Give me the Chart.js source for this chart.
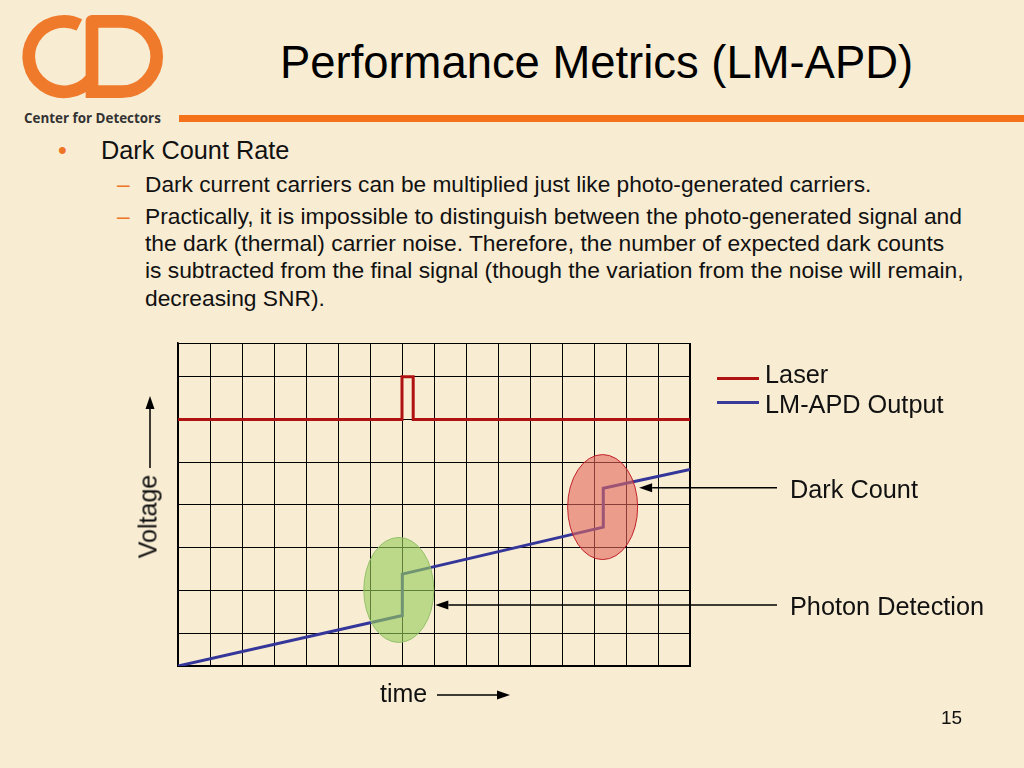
<!DOCTYPE html>
<html>
<head>
<meta charset="utf-8">
<script src="https://cdn.jsdelivr.net/npm/chart.js@4.4.1/dist/chart.umd.min.js"></script>
<style>
  html, body { margin:0; padding:0; }
  body { width:1024px; height:768px; overflow:hidden; position:relative;
         background:#f8ecd3; font-family:"Liberation Sans", Arial, sans-serif; color:#111; }
  .t { position:absolute; white-space:nowrap; line-height:1; }
  .or { color:#ee7526; }
</style>
</head>
<body>
<svg width="180" height="112" style="position:absolute;left:0;top:0" xmlns="http://www.w3.org/2000/svg">
  <g fill="none" stroke="#ef7a2b" stroke-width="12.7">
    <path d="M 79.4 24.9 A 35.2 35.2 0 1 0 91 79.1"/>
    <path d="M 92 98 L 92 21.3 L 121.5 21.3 A 35.2 35.2 0 0 1 121.5 91.7 L 92 91.7" stroke-linejoin="round"/>
  </g>
</svg>
<div class="t" style="left:24px;top:112px;font-family:'Open Sans',sans-serif;font-weight:700;font-size:13.4px;color:#333;">Center for Detectors</div>
<div style="position:absolute;left:179px;top:115px;width:845px;height:7px;background:#f4721a;"></div>

<div class="t" style="left:280px;top:39.6px;font-size:45.4px;color:#000;">Performance Metrics (LM-APD)</div>

<div class="t or" style="left:58px;top:137.8px;font-size:25px;">•</div>
<div class="t" style="left:101px;top:137.6px;font-size:25.3px;">Dark Count Rate</div>
<div class="t or" style="left:117px;top:172.8px;font-size:22.7px;">–</div>
<div class="t" style="left:145px;top:172.8px;font-size:22.7px;">Dark current carriers can be multiplied just like photo-generated carriers.</div>
<div class="t or" style="left:117px;top:204.8px;font-size:22.7px;">–</div>
<div class="t" style="left:145px;top:204.7px;font-size:22.8px;">Practically, it is impossible to distinguish between the photo-generated signal and</div>
<div class="t" style="left:145px;top:231.7px;font-size:22.8px;">the dark (thermal) carrier noise. Therefore, the number of expected dark counts</div>
<div class="t" style="left:145px;top:258.7px;font-size:22.8px;">is subtracted from the final signal (though the variation from the noise will remain,</div>
<div class="t" style="left:145px;top:286.7px;font-size:22.8px;">decreasing SNR).</div>

<canvas id="c" width="1024" height="768" style="position:absolute;left:0;top:0;"></canvas>

<div style="position:absolute;left:717px;top:377px;width:42px;height:3px;background:#b01212;"></div>
<div style="position:absolute;left:717px;top:400.5px;width:42px;height:3px;background:#3a3a98;"></div>
<div class="t" style="left:765px;top:361.6px;font-size:25.3px;">Laser</div>
<div class="t" style="left:765px;top:391.6px;font-size:25.3px;">LM-APD Output</div>
<div class="t" style="left:790px;top:476.6px;font-size:25.3px;">Dark Count</div>
<div class="t" style="left:790px;top:593.6px;font-size:25.3px;">Photon Detection</div>
<div class="t" style="left:380px;top:680.8px;font-size:25px;">time</div>
<div class="t" style="left:97.5px;top:504px;width:100px;height:25px;text-align:center;font-size:25px;transform:rotate(-90deg);transform-origin:50% 50%;">Voltage</div>
<div class="t" style="left:941px;top:707.9px;font-size:19px;">15</div>

<script>
// ---- data (time in grid divisions, voltage in arbitrary units) ----
const timeGrid = [0,1,2,3,4,5,6,7,8,9,10,11,12,13,14,15,16];
const voltageGrid = [0, 0.77, 1.77, 2.77, 3.77, 4.77, 5.77, 6.77, 7.56];
const laserT = [0, 7.0, 7.0, 7.35, 7.35, 16];
const laserV = [5.77, 5.77, 6.77, 6.77, 5.77, 5.77];
const apdT = [0, 7.01, 7.01, 13.29, 13.29, 16];
const apdV = [0, 1.18, 2.15, 3.25, 4.16, 4.60];
const eventNames = ['Photon Detection', 'Dark Count'];
const eventT = [6.9, 13.27];
const eventV = [1.78, 3.72];
const arrowV = [1.43, 4.17];

const pts = (xs, ys) => xs.map((x, i) => ({x: x, y: ys[i]}));

function arrow(ctx, x1, y1, x2, y2, len, half) {
  const a = Math.atan2(y2 - y1, x2 - x1);
  const bx = x2 - len * Math.cos(a), by = y2 - len * Math.sin(a);
  ctx.beginPath();
  ctx.moveTo(x1, y1); ctx.lineTo(bx, by); ctx.stroke();
  ctx.beginPath();
  ctx.moveTo(x2, y2);
  ctx.lineTo(bx + half * Math.sin(a), by - half * Math.cos(a));
  ctx.lineTo(bx - half * Math.sin(a), by + half * Math.cos(a));
  ctx.closePath(); ctx.fill();
}

const overlay = {
  id: 'overlay',
  afterDatasetsDraw(chart) {
    const ctx = chart.ctx, xs = chart.scales.x, ys = chart.scales.y;
    const fills = ['rgba(150,205,90,0.62)', 'rgba(226,104,92,0.6)'];
    const strokes = ['#94c06a', '#c0202a'];
    const rx = 35, ry = 52.5;
    ctx.save();
    eventT.forEach((t, i) => {
      const cx = xs.getPixelForValue(t), cy = ys.getPixelForValue(eventV[i]);
      ctx.beginPath();
      ctx.ellipse(cx, cy, rx, ry, 0, 0, Math.PI * 2);
      ctx.fillStyle = fills[i]; ctx.fill();
      ctx.lineWidth = 1; ctx.strokeStyle = strokes[i]; ctx.stroke();
    });
    ctx.strokeStyle = '#000'; ctx.fillStyle = '#000'; ctx.lineWidth = 1.5;
    eventT.forEach((t, i) => {
      const cx = xs.getPixelForValue(t) + rx + 1.5, cy = ys.getPixelForValue(arrowV[i]);
      arrow(ctx, 777, cy, cx, cy, 13, 4.5);
    });
    // axis direction arrows
    arrow(ctx, 150, 468, 150, 396, 13, 4.5);
    arrow(ctx, 437, 695, 510, 695, 13, 4.5);
    ctx.restore();
  }
};

new Chart(document.getElementById('c'), {
  type: 'scatter',
  data: {
    datasets: [
      { label: 'Laser', data: pts(laserT, laserV), showLine: true, borderColor: '#b01212',
        borderWidth: 3, pointRadius: 0, tension: 0, borderJoinStyle: 'miter' },
      { label: 'LM-APD Output', data: pts(apdT, apdV), showLine: true, borderColor: '#34369a',
        borderWidth: 3, pointRadius: 0, tension: 0, borderJoinStyle: 'miter' }
    ]
  },
  options: {
    responsive: false, animation: false, devicePixelRatio: 1,
    layout: { padding: { left: 178, top: 343, right: 334, bottom: 102 } },
    plugins: { legend: { display: false }, tooltip: { enabled: false } },
    scales: {
      x: { type: 'linear', min: 0, max: 16,
           afterBuildTicks: s => { s.ticks = timeGrid.map(v => ({value: v})); },
           ticks: { display: false },
           grid: { color: '#000', lineWidth: c => (c.tick && c.tick.value === 16) ? 2 : 1, drawTicks: false },
           border: { display: true, color: '#000', width: 2 } },
      y: { type: 'linear', min: 0, max: 7.56,
           afterBuildTicks: s => { s.ticks = voltageGrid.map(v => ({value: v})); },
           ticks: { display: false },
           grid: { color: '#000', lineWidth: 1, drawTicks: false },
           border: { display: true, color: '#000', width: 1.5 } }
    }
  },
  plugins: [overlay]
});
</script>
</body>
</html>
